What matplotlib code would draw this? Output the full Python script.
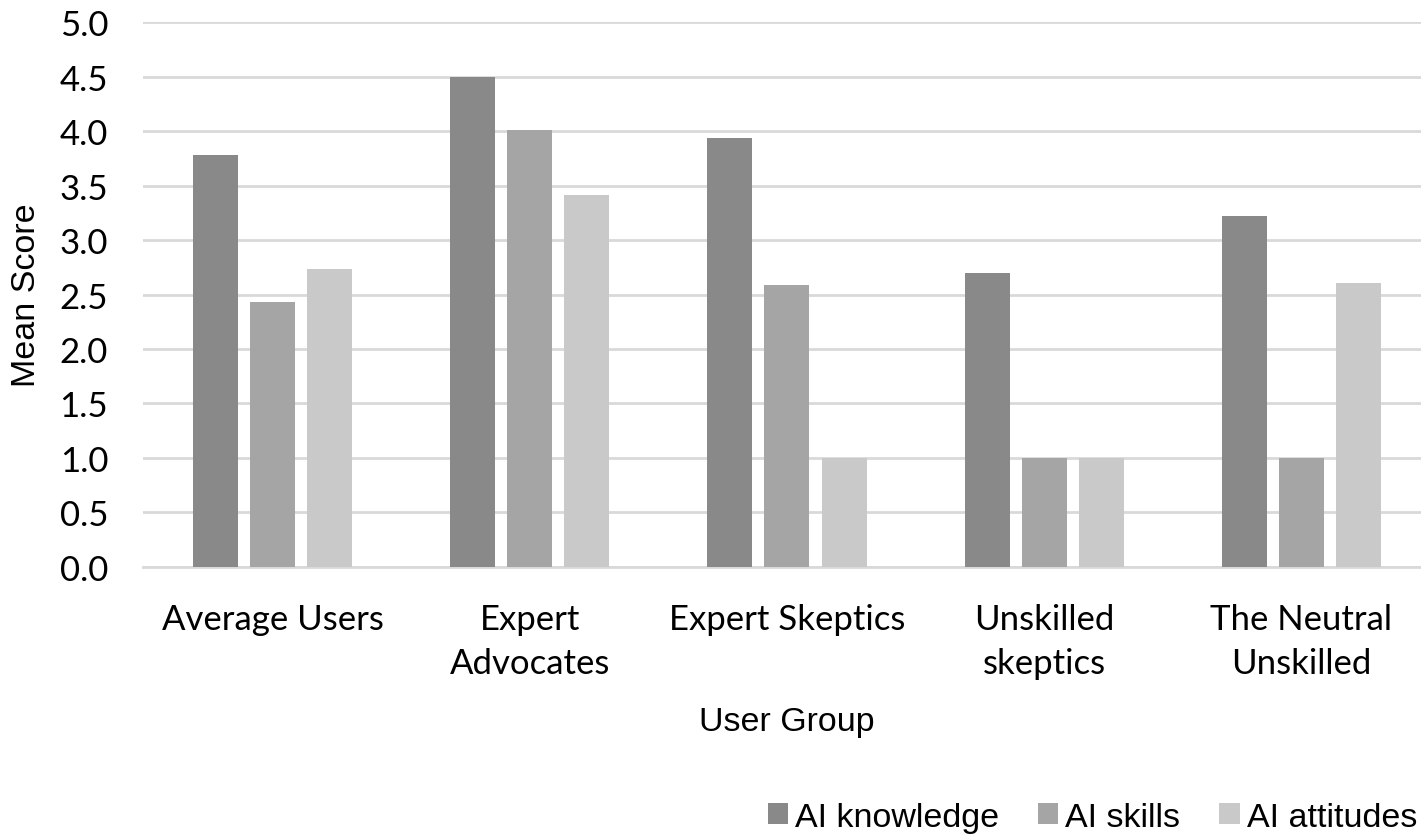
import matplotlib
matplotlib.use("Agg")
import matplotlib.pyplot as plt
import numpy as np

# data
groups = ["Average Users", "Expert\nAdvocates", "Expert Skeptics", "Unskilled\nskeptics", "The Neutral\nUnskilled"]
series = ["AI knowledge", "AI skills", "AI attitudes"]
ai_knowledge = [3.78, 4.50, 3.94, 2.70, 3.22]
ai_skills = [2.43, 4.01, 2.59, 1.00, 1.00]
ai_attitudes = [2.73, 3.41, 1.00, 1.00, 2.61]
colors = ["#898989", "#a5a5a5", "#c9c9c9"]

fig = plt.figure(figsize=(14.21, 8.37), dpi=100)
ax = fig.add_axes([0.1006, 0.3214, 0.8994, 0.6511])

x = np.arange(len(groups))
w = 0.175
step = 0.222
for i, (vals, c, name) in enumerate(zip([ai_knowledge, ai_skills, ai_attitudes], colors, series)):
    ax.bar(x + (i - 1) * step, vals, width=w, color=c, label=name, zorder=3)

ax.set_xlim(-0.504, 4.465)
ax.set_ylim(0, 5.0)
ticks = np.arange(0, 5.01, 0.5)
ax.set_yticks(ticks)
ax.set_yticklabels([f"{v:.1f}" for v in ticks], fontsize=25, family="Lato")
ax.set_xticks(x)
ax.set_xticklabels(groups, fontsize=25, family="Lato", linespacing=1.45)
ax.tick_params(axis="y", length=0, pad=25)
ax.tick_params(axis="x", length=0, pad=26)
ax.grid(axis="y", color="#d9d9d9", linewidth=2, zorder=0)
for s in ["top", "right", "left"]:
    ax.spines[s].set_visible(False)
ax.spines["bottom"].set_color("#d9d9d9")
ax.spines["bottom"].set_linewidth(2)

ax.set_ylabel("Mean Score", fontsize=24.5, family="Liberation Sans")
ax.yaxis.set_label_coords(-0.079, 0.5)
ax.set_xlabel("User Group", fontsize=24.5, family="Liberation Sans")
ax.xaxis.set_label_coords(0.504, -0.255)

fig.legend(loc="lower right", bbox_to_anchor=(1417 / 1421, 0.004), ncol=3, frameon=False,
           prop={"family": "Liberation Sans", "size": 24.5}, handlelength=0.6, handleheight=0.6,
           handletextpad=0.2, columnspacing=1.15, borderpad=0, borderaxespad=0)

fig.savefig("out.png", dpi=100)
